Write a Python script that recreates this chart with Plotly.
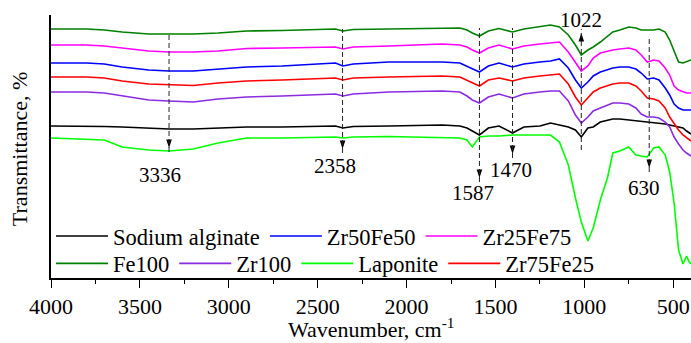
import plotly.graph_objects as go

wavenumber = [4000, 3800, 3700, 3600, 3450, 3336, 3200, 3060, 2900, 2700, 2400, 2358, 2300, 2100,
              1900, 1800, 1700, 1660, 1630, 1590, 1540, 1480, 1404, 1340, 1250, 1190, 1140, 1090,
              1050, 1017, 980, 950, 910, 870, 840, 800, 750, 710, 680, 646, 610, 580, 545, 520,
              495, 470, 445, 425, 410, 400]

fe100 = [249, 249, 248, 246, 244, 244, 244, 245, 247, 247.5, 249, 247, 248.5, 249, 249.5, 250.5, 250,
         248, 245, 242, 247, 249.5, 246, 249, 251, 253, 251, 243, 233, 223, 228, 231, 236, 242, 246,
         248, 251, 250, 248, 248, 248, 249, 246, 238, 226, 216, 215, 216, 217, 218]
zr25fe75 = [233, 233, 232, 230, 227, 226, 226, 227, 229.5, 230, 231, 229, 231, 232, 233, 234, 233, 231,
            228, 225, 230, 233, 229, 232, 234, 235, 236, 226, 215, 207, 212, 220, 225, 227, 228, 229,
            230, 228, 223, 216, 218, 217, 210, 203, 192, 188, 186, 185, 185, 185]
zr50fe50 = [215, 215, 214, 211, 208, 207, 207, 209, 211, 212, 215, 212, 214, 216, 216, 216, 215, 212,
            209, 206, 212, 215, 211, 214, 216, 217, 219, 210, 198, 190, 196, 202, 206, 208, 210, 211,
            211, 209, 205, 199, 200, 198, 190, 183, 174, 170, 168, 168, 168, 168]
zr75fe25 = [201, 201, 200, 197, 194, 193, 192.5, 195, 197, 198, 200, 198, 200, 201, 201.5, 202, 201,
            198, 195, 192, 198, 200, 197, 200, 202, 203, 204, 194, 181, 173, 180, 186, 190, 192, 194,
            195, 195, 192, 187, 180, 179, 177, 170, 161, 154, 148, 143, 140, 138, 137]
zr100 = [186, 186, 185, 182, 178, 177, 176, 179, 181, 182, 184, 182, 184, 186, 186.5, 187, 186, 182,
         178, 175, 181, 184, 180, 184, 186, 187, 187, 177, 163, 155, 161, 167, 170, 173, 175, 175, 174,
         170, 164, 161, 161, 160, 156, 151, 141, 134, 128, 125, 123, 122]
sodium_alginate = [152, 152, 151.5, 151, 150, 149, 149, 150, 151, 151, 152, 150, 151.5, 152, 152.5, 153,
                   152, 150, 147, 143, 150, 152, 145, 151, 152, 155, 153, 151, 148, 141, 150, 151, 156,
                   158, 159, 159, 158, 157, 157, 156, 155, 155, 154, 153, 152, 151, 150, 147, 145, 144]
laponite = [140, 139, 138, 131, 128, 127, 129, 135, 140, 140, 141, 140, 141, 141.5, 141, 141, 140, 138,
            131, 141, 142, 142, 143, 143, 143, 143, 136, 113, 80, 56, 37, 50, 78, 100, 125, 127, 131,
            123, 122, 121, 130, 131, 123, 106, 75, 28, 14, 22, 16, 14]

series_row1 = [("Sodium alginate", sodium_alginate, "#000000"),
               ("Zr50Fe50", zr50fe50, "#0000ff"),
               ("Zr25Fe75", zr25fe75, "#ff00ff")]
series_row2 = [("Fe100", fe100, "#008000"),
               ("Zr100", zr100, "#8a2be2"),
               ("Laponite", laponite, "#00ff00"),
               ("Zr75Fe25", zr75fe25, "#ff0000")]

band_labels = ["3336", "2358", "1587", "1470", "1022", "630"]
band_pos = [3336, 2360, 1590, 1404, 1017, 635]
band_top = [246, 249, 250, 250, 249, 240]
band_bottom = [126, 125, 96, 120, 128, 106]
band_up = [False, False, False, False, True, False]
label_x = [3388, 2404, 1629, 1410, 1017, 663]
label_y = [103, 112, 85.5, 108, 258, 90]

FONT = "Liberation Serif, Times New Roman, serif"

fig = go.Figure()
for name, vals, col in series_row1:
    fig.add_trace(go.Scatter(x=wavenumber, y=vals, mode="lines", name=name,
                             line=dict(color=col, width=1.6), legend="legend"))
for name, vals, col in series_row2:
    fig.add_trace(go.Scatter(x=wavenumber, y=vals, mode="lines", name=name,
                             line=dict(color=col, width=1.6), legend="legend2"))

# dashed marker lines
for i, lab in enumerate(band_labels):
    fig.add_shape(type="line", xref="x", yref="y", x0=band_pos[i], x1=band_pos[i],
                  y0=band_bottom[i], y1=band_top[i],
                  line=dict(color="#222222", width=1, dash="5px,3px"))
    fig.add_annotation(x=label_x[i], y=label_y[i], xref="x", yref="y", text=lab,
                       showarrow=False, font=dict(family=FONT, size=21, color="#000000"))

# arrow heads at the tips of the dashed lines
head_half = 4
head_y = [(band_top[i] - head_half) if band_up[i] else (band_bottom[i] + head_half)
          for i in range(len(band_labels))]
head_angle = [0 if u else 180 for u in band_up]
fig.add_trace(go.Scatter(x=band_pos, y=head_y, mode="markers", showlegend=False, hoverinfo="skip",
                         marker=dict(symbol="arrow", size=9, angle=head_angle, color="#000000",
                                     line=dict(width=0))))

legend_common = dict(orientation="h", xanchor="left", yanchor="middle",
                     font=dict(family=FONT, size=22.5, color="#000000"),
                     bgcolor="rgba(0,0,0,0)", itemwidth=52, tracegroupgap=0)
fig.update_layout(
    width=691, height=343,
    margin=dict(l=51, r=0, t=15, b=65, autoexpand=False),
    paper_bgcolor="white", plot_bgcolor="white",
    font=dict(family=FONT, color="black"),
    showlegend=True,
    legend=dict(x=0.0, y=0.158, **legend_common),
    legend2=dict(x=0.0, y=0.054, **legend_common),
    xaxis=dict(range=[4000, 400], tickvals=[4000, 3500, 3000, 2500, 2000, 1500, 1000, 500],
               showline=True, linecolor="black", linewidth=1.5, mirror=False,
               ticks="outside", ticklen=8, tickwidth=1.2, tickcolor="black",
               minor=dict(dtick=250, ticks="outside", ticklen=4, tickwidth=1.2, tickcolor="black"),
               showgrid=False, zeroline=False, automargin=False,
               tickfont=dict(family=FONT, size=22, color="black")),
    yaxis=dict(range=[0, 263], showline=True, linecolor="black", linewidth=1.5, automargin=False,
               showticklabels=False, ticks="", showgrid=False, zeroline=False),
    annotations=list(fig.layout.annotations) + [
        dict(text="Transmittance, %", textangle=-90, xref="paper", yref="paper",
             x=-0.05, y=0.49, xanchor="center", yanchor="middle", showarrow=False,
             font=dict(family=FONT, size=22, color="black")),
        dict(text="Wavenumber, cm<sup>-1</sup>", xref="paper", yref="paper",
             x=0.5, y=-0.19, xanchor="center", yanchor="middle", showarrow=False,
             font=dict(family=FONT, size=22, color="black"))],
)

fig.write_html("out.html")
